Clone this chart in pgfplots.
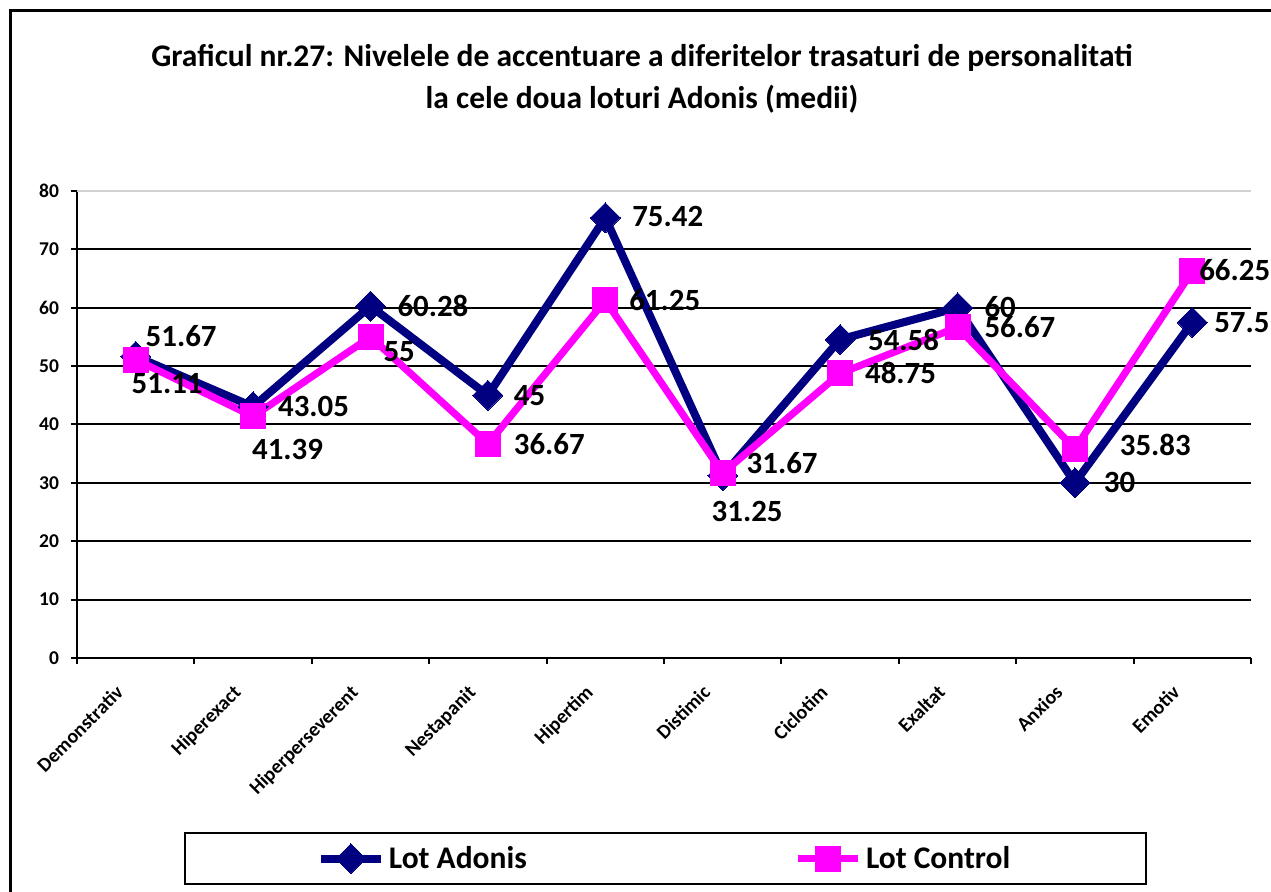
\documentclass[border=0pt]{standalone}
\usepackage{pgfplots}
\pgfplotsset{compat=1.18}
\usepackage{pgfplotstable}
\usepackage{fontspec}
\setmainfont{Carlito}
\definecolor{adonis}{HTML}{000080}
\definecolor{control}{HTML}{FF00FF}

\pgfplotstableread{
x y lab dx dy
0 51.67 51.67 5 10
1 43.05 43.05 12.5 0
2 60.28 60.28 13.5 0
3 45 45 13 0
4 75.42 75.42 13.5 0.5
5 31.25 31.25 -5.5 -18
6 54.58 54.58 14 -0.5
7 60 60 13.5 0.5
8 30 30 14.5 0
9 57.5 57.5 11 0
}\adonisdata

\pgfplotstableread{
x y lab dx dy
0 51.11 51.11 -2 -12.2
1 41.39 41.39 -0.5 -16.3
2 55 55 6.5 -7.4
3 36.67 36.67 13 0
4 61.25 61.25 12 0
5 31.67 31.67 12 5
6 48.75 48.75 12.5 0
7 56.67 56.67 13.5 0
8 35.83 35.83 22.5 2
9 66.25 66.25 3.5 0.5
}\controldata

\begin{document}
\begin{tikzpicture}
\useasboundingbox (0,0) rectangle (635.5bp,446bp);
\draw[line width=1.5bp] (5bp,-20bp) rectangle (660bp,440.5bp);
\node[font=\bfseries\fontsize{15.8}{21}\selectfont, align=center] at (321bp,406.5bp)
  {Graficul nr.27: Nivelele de accentuare a diferitelor trasaturi de personalitati\\la cele doua loturi Adonis (medii)};
\begin{axis}[
  at={(38.5bp,117bp)}, anchor=south west,
  scale only axis, width=587bp, height=233.5bp,
  xmin=-0.5, xmax=9.5, ymin=0, ymax=80,
  axis x line*=bottom, axis y line*=left,
  axis line style={line width=1bp, black},
  tick align=outside, major tick length=3bp,
  tick style={black, line width=1bp},
  ytick={0,10,...,70},
  ymajorgrids=true,
  major grid style={black, line width=1bp},
  extra y ticks={80},
  extra y tick style={major grid style={black!18, line width=0.8bp}},
  yticklabel style={font=\bfseries\fontsize{9.8}{11}\selectfont, xshift=-2.5bp},
  /pgf/number format/assume math mode=true,
  xtick={-0.5,0.5,...,9.5},
  xticklabels={},
  extra x ticks={0,1,...,9},
  extra x tick labels={Demonstrativ,Hiperexact,Hiperperseverent,Nestapanit,Hipertim,Distimic,Ciclotim,Exaltat,Anxios,Emotiv},
  extra x tick style={major tick length=0pt,
    xticklabel style={rotate=45, anchor=north east, inner sep=0pt, xshift=-16.4bp, yshift=-1.5bp,
      font=\bfseries\fontsize{10}{11}\selectfont}},
  legend style={at={(0.0911,-0.3726)}, anchor=north west, legend columns=2,
    draw=black, line width=1bp, inner xsep=66bp, inner ysep=4.5bp,
    font=\bfseries\fontsize{15.8}{18}\selectfont,
    nodes={inner sep=2bp},
    /tikz/every even column/.append style={column sep=132bp}},
  legend image code/.code={\draw[mark repeat=2,mark phase=2,#1] plot coordinates {(0bp,0bp) (15bp,0bp) (30bp,0bp)};},
  nodes near coords={\pgfplotspointmeta},
  point meta=explicit symbolic,
  visualization depends on={\thisrow{dx} \as \labdx},
  visualization depends on={\thisrow{dy} \as \labdy},
  every node near coord/.append style={anchor=west, inner sep=0pt, xshift=\labdx bp, yshift=\labdy bp,
    font=\bfseries\fontsize{15.5}{17}\selectfont, text=black},
]
\addplot[color=adonis, line width=4bp, mark=square*, mark size=5.3bp,
  mark options={rotate=45, solid, fill=adonis, line width=0pt}]
  table[x=x, y=y, meta=lab] {\adonisdata};
\addlegendentry{Lot Adonis}
\addplot[color=control, line width=3.6bp, mark=square*, mark size=6.25bp,
  mark options={solid, fill=control, line width=0pt}]
  table[x=x, y=y, meta=lab] {\controldata};
\addlegendentry{Lot Control}
\end{axis}
\end{tikzpicture}
\end{document}
